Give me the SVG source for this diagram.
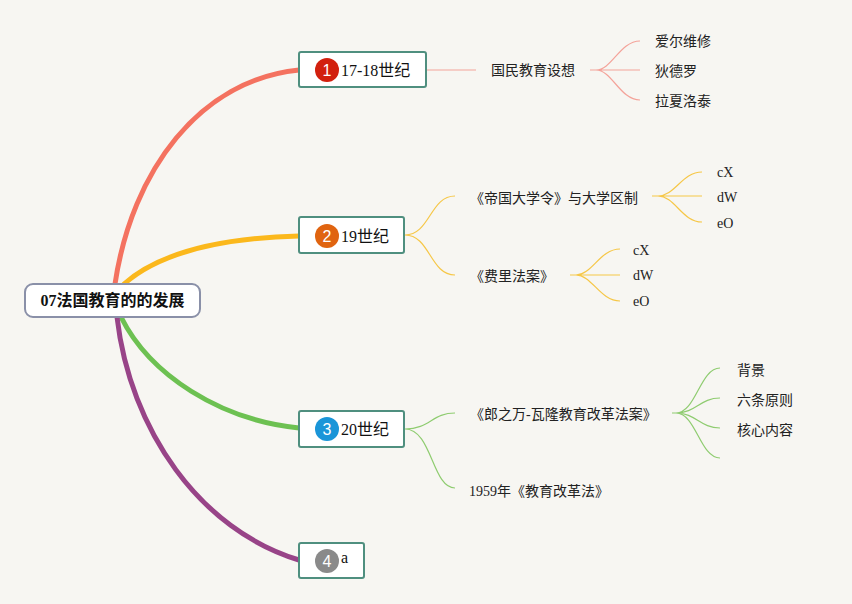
<svg xmlns="http://www.w3.org/2000/svg" width="852" height="604" viewBox="0 0 852 604">
<style>
.bg{fill:#f7f6f2}
.root{fill:#fff;stroke:#8a90a8;stroke-width:2}
.box{fill:#fff;stroke:#4f8f7f;stroke-width:2}
.rt{font-family:"Liberation Serif","Noto Sans CJK SC",serif;font-size:16px;font-weight:bold;fill:#111}
.bt{font-family:"Liberation Serif","Noto Sans CJK SC",serif;font-size:16px;fill:#111}
.st{font-family:"Liberation Serif","Noto Sans CJK SC",serif;font-size:14px;fill:#222}
.num{font-family:"Liberation Sans","Noto Sans",sans-serif;font-size:16px;fill:#fff;text-anchor:middle}
.main{fill:none;stroke-width:5;stroke-linecap:round}
.thin{fill:none;stroke-width:1.2}
.r{stroke:#f4a39a}.o{stroke:#f6c747}.g{stroke:#8fcc70}
</style>
<rect class="bg" x="0" y="0" width="852" height="604"/>
<g id="connectors">
<path class="main" stroke="#f47260" d="M115,284 C132,170 200,80 299,70"/>
<path class="main" stroke="#fbb81c" d="M124,284 C160,252 225,238 299,236"/>
<path class="main" stroke="#6dc152" d="M121,317 C150,375 220,420 299,428"/>
<path class="main" stroke="#984488" d="M117,317 C130,430 200,530 299,560"/>
<path class="thin r" d="M426,70 H476"/>
<path class="thin r" d="M590,70 H596 C612,70 620,41 640,41 M596,70 H640 M596,70 C612,70 620,100 640,100"/>
<path class="thin o" d="M405,235 C430,235 430,196 455,196 M405,235 C430,235 430,275 455,275"/>
<path class="thin o" d="M652,196 H658 C675,196 682,172 702,172 M658,196 H702 M658,196 C675,196 682,222 702,222"/>
<path class="thin o" d="M570,275 H576 C592,275 600,249 620,249 M576,275 H620 M576,275 C592,275 600,301 620,301"/>
<path class="thin g" d="M405,429 C430,429 432,413 455,413 M405,429 C432,429 432,488 455,488"/>
<path class="thin g" d="M672,413 H676 C696,413 700,368 720,368 M676,413 C696,413 700,398 720,398 M676,413 C696,413 700,428 720,428 M676,413 C696,413 700,458 720,458"/>
</g>
<g id="root">
<rect class="root" x="25" y="284" width="175" height="33" rx="8"/>
<text class="rt" x="112.5" y="306" text-anchor="middle">07法国教育的的发展</text>
</g>
<g id="b1">
<rect class="box" x="299" y="52" width="127" height="35" rx="2"/>
<circle cx="327" cy="70" r="12" fill="#d2200e"/>
<text class="num" x="327" y="75.8">1</text>
<text class="bt" x="341" y="76">17-18世纪</text>
</g>
<g id="b2">
<rect class="box" x="299" y="217" width="105" height="36" rx="2"/>
<circle cx="327" cy="236" r="12" fill="#e06410"/>
<text class="num" x="327" y="241.8">2</text>
<text class="bt" x="341" y="242">19世纪</text>
</g>
<g id="b3">
<rect class="box" x="299" y="411" width="105" height="36" rx="2"/>
<circle cx="327" cy="429" r="12" fill="#1a95d8"/>
<text class="num" x="327" y="434.8">3</text>
<text class="bt" x="341" y="435">20世纪</text>
</g>
<g id="b4">
<rect class="box" x="299" y="543" width="65" height="35" rx="2"/>
<circle cx="327" cy="561" r="12" fill="#8a8a8a"/>
<text class="num" x="327" y="566.8">4</text>
<text class="bt" x="341" y="563">a</text>
</g>
<g id="s1"><text class="st" x="491" y="75">国民教育设想</text></g>
<g id="s1a"><text class="st" x="655" y="46">爱尔维修</text></g>
<g id="s1b"><text class="st" x="655" y="76">狄德罗</text></g>
<g id="s1c"><text class="st" x="655" y="106">拉夏洛泰</text></g>
<g id="s2"><text class="st" x="470" y="203">《帝国大学令》与大学区制</text></g>
<g id="s2a"><text class="st" x="717" y="177">cX</text></g>
<g id="s2b"><text class="st" x="717" y="202">dW</text></g>
<g id="s2c"><text class="st" x="717" y="228">eO</text></g>
<g id="s3"><text class="st" x="470" y="281">《费里法案》</text></g>
<g id="s3a"><text class="st" x="633" y="255">cX</text></g>
<g id="s3b"><text class="st" x="633" y="280">dW</text></g>
<g id="s3c"><text class="st" x="633" y="306">eO</text></g>
<g id="s4"><text class="st" x="470" y="419">《郎之万-瓦隆教育改革法案》</text></g>
<g id="s4a"><text class="st" x="737" y="375">背景</text></g>
<g id="s4b"><text class="st" x="737" y="405">六条原则</text></g>
<g id="s4c"><text class="st" x="737" y="435">核心内容</text></g>
<g id="s5"><text class="st" x="469" y="496">1959年《教育改革法》</text></g>
</svg>
